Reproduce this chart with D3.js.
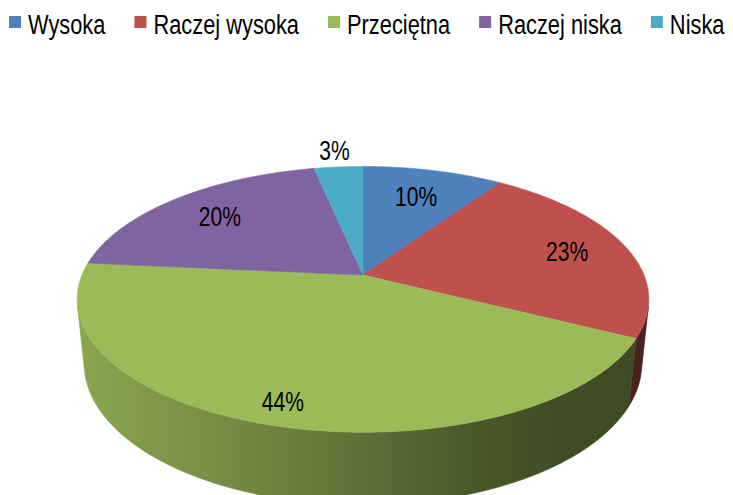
<!DOCTYPE html>
<html>
<head>
<meta charset="utf-8">
<script src="https://cdn.jsdelivr.net/npm/d3@7"></script>
<style>
  html, body { margin: 0; padding: 0; background: #fff; }
  svg { display: block; }
</style>
</head>
<body>
<svg id="chart" width="733" height="495"></svg>
<script>
// ---- data ----
const categories = ["Wysoka", "Raczej wysoka", "Przeciętna", "Raczej niska", "Niska"];
const values = [9.5, 23.0, 44.0, 20.2, 3.3];
const labelTexts = ["10%", "23%", "44%", "20%", "3%"];
const colors = ["#4f81bd", "#c0504d", "#9bbb59", "#8064a2", "#4bacc6"];

// ---- layout / projection ----
const W = 733, H = 495;
const svg = d3.select("#chart");
svg.append("rect").attr("width", W).attr("height", H).attr("fill", "#fff");

const FONT = "'Liberation Sans', Arial, sans-serif";
const NARROW = 0.78;                // horizontal condensing (Arial Narrow look)
const cx = 363, cy = 275;          // screen position of pie apex
const R = 281;                      // pie radius (world units)
const tilt = Math.asin(0.457);      // elevation angle
const sa = Math.sin(tilt), ca = Math.cos(tilt);
const dist = 1364;                  // camera distance
const depth = 73;                   // pie thickness

function project(theta, r, y) {
  const x = r * Math.sin(theta);
  const z = -r * Math.cos(theta);
  const yup = y * ca - z * sa;
  const zp = y * sa + z * ca;
  const k = dist / (dist - zp);
  return [cx + x * k, cy - yup * k];
}

const color = d3.scaleOrdinal().domain(categories).range(colors);
const pie = d3.pie().sort(null).value(d => d.value).startAngle(0).endAngle(2 * Math.PI);
const data = categories.map((c, i) => ({ name: c, value: values[i], label: labelTexts[i] }));
const arcs = pie(data);

const line = d3.line();
const STEP = Math.PI / 360;
function arcPoints(a, b, r, y) {
  const n = Math.max(2, Math.ceil((b - a) / STEP));
  return d3.range(n + 1).map(i => project(a + (b - a) * i / n, r, y));
}

// ---- side walls (visible range only) ----
const horiz = dist * ca;
const sil = Math.acos(-R / horiz);
const visA = sil, visB = 2 * Math.PI - sil;

const defs = svg.append("defs");
const gStops = [[0, 0.35], [0.25, 0.8], [0.5, 1.4], [0.7, 2.1], [0.85, 2.5], [1, 2.6]];
arcs.forEach((a, i) => {
  const g = defs.append("linearGradient")
    .attr("id", "side" + i)
    .attr("gradientUnits", "userSpaceOnUse")
    .attr("x1", cx - R).attr("x2", cx + R).attr("y1", 0).attr("y2", 0);
  gStops.forEach(([t, k]) => {
    g.append("stop").attr("offset", t).attr("stop-color", d3.color(color(a.data.name)).darker(k).formatHex());
  });
});

const sides = svg.append("g");
arcs.forEach((a, i) => {
  const s = Math.max(a.startAngle, visA), e = Math.min(a.endAngle, visB);
  if (s >= e) return;
  const pts = arcPoints(s, e, R, 0).concat(arcPoints(s, e, R, -depth).reverse());
  sides.append("path")
    .attr("d", line(pts) + "Z")
    .attr("fill", `url(#side${i})`)
    .attr("stroke", `url(#side${i})`)
    .attr("stroke-width", 0.6);
});

// ---- top faces ----
const tops = svg.append("g");
arcs.forEach(a => {
  const pts = [project(0, 0, 0)].concat(arcPoints(a.startAngle, a.endAngle, R, 0));
  tops.append("path")
    .attr("d", line(pts) + "Z")
    .attr("fill", color(a.data.name))
    .attr("stroke", color(a.data.name))
    .attr("stroke-width", 0.6)
    .attr("stroke-linejoin", "round");
});

// ---- data labels ----
const labelG = svg.append("g");
arcs.forEach(a => {
  const mid = (a.startAngle + a.endAngle) / 2;
  const inside = a.data.value >= 5;
  const rf = inside ? 0.72 + 0.15 * (1 - Math.cos(mid)) / 2 : 1.19;
  const [x, y] = project(mid, R * rf, 0);
  labelG.append("text")
    .attr("transform", `translate(${x},${y}) scale(${NARROW},1)`)
    .attr("dy", "0.36em")
    .attr("text-anchor", "middle")
    .attr("font-family", FONT)
    .attr("font-size", 27)
    .attr("fill", "#000")
    .text(a.data.label);
});

// ---- legend ----
const legend = svg.append("g");
let lx = 9;
categories.forEach((c, i) => {
  const item = legend.append("g");
  item.append("rect").attr("x", lx).attr("y", 16).attr("width", 12).attr("height", 12).attr("fill", color(c));
  const t = item.append("text")
    .attr("transform", `translate(${lx + 19},34) scale(${NARROW},1)`)
    .attr("font-family", FONT)
    .attr("font-size", 28)
    .attr("fill", "#000")
    .text(c);
  lx += 19 + t.node().getComputedTextLength() * NARROW + 29;
});
</script>
</body>
</html>
